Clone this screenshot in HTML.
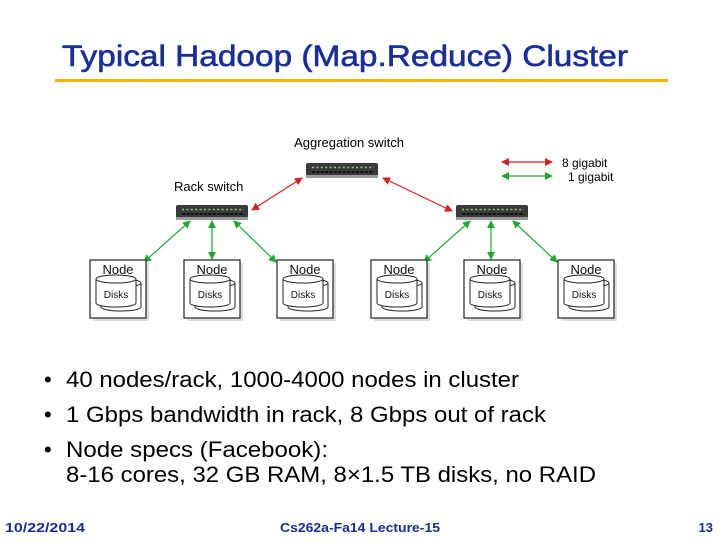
<!DOCTYPE html>
<html><head><meta charset="utf-8"><style>
body{margin:0;background:#fff;width:720px;height:540px;overflow:hidden;font-family:"Liberation Sans",sans-serif;}
</style></head><body>
<svg width="720" height="540" xmlns="http://www.w3.org/2000/svg" font-family="Liberation Sans, sans-serif">
<defs>
<marker id="r" markerWidth="8" markerHeight="8" refX="7" refY="4" orient="auto-start-reverse" markerUnits="userSpaceOnUse"><path d="M0,0 L8,4 L0,8z" fill="#d42020"/></marker>
<marker id="g" markerWidth="8" markerHeight="8" refX="7" refY="4" orient="auto-start-reverse" markerUnits="userSpaceOnUse"><path d="M0,0 L8,4 L0,8z" fill="#22a832"/></marker>
<g id="sw"><rect x="0" y="0" width="72" height="14" rx="2" fill="#3a3a3a"/><rect x="0" y="12" width="72" height="3" fill="#999"/>
<line x1="6" y1="4.5" x2="68" y2="4.5" stroke="#8c8" stroke-width="1.5" stroke-dasharray="2 2.4"/>
<line x1="6" y1="9" x2="68" y2="9" stroke="#111" stroke-width="2" stroke-dasharray="3 1.4"/></g>
<g id="nd"><rect x="3" y="3" width="56" height="58" fill="#bbb" opacity="0.5"/><rect x="0" y="0" width="56" height="58" fill="#fff" stroke="#222" stroke-width="1.2"/>
<text x="28" y="14" font-size="13" text-anchor="middle" fill="#111">Node</text>
<path d="M11,23 v24 a20,4 0 0 0 40,0 v-24" fill="#fff" stroke="#222"/><ellipse cx="31" cy="23" rx="20" ry="4" fill="#fff" stroke="#222"/>
<path d="M6,19 v24 a20,4 0 0 0 40,0 v-24" fill="#fff" stroke="#222"/><ellipse cx="26" cy="19" rx="20" ry="4" fill="#fff" stroke="#222"/>
<text x="26" y="38" font-size="10" text-anchor="middle" fill="#111">Disks</text></g>
</defs>
<text x="62" y="66" font-size="30" fill="#1a2f96" stroke="#1a2f96" stroke-width="0.6" textLength="566" lengthAdjust="spacingAndGlyphs">Typical Hadoop (Map.Reduce) Cluster</text>
<rect x="55" y="79" width="613" height="3" fill="#f0b400"/>
<text x="349" y="147" font-size="13" text-anchor="middle">Aggregation switch</text>
<text x="174" y="191" font-size="13">Rack switch</text>
<use href="#sw" x="306" y="163"/><use href="#sw" x="176" y="205"/><use href="#sw" x="456" y="205"/>
<g stroke="#d42020" stroke-width="1.2"><line x1="302" y1="178" x2="252" y2="210" marker-start="url(#r)" marker-end="url(#r)"/>
<line x1="383" y1="178" x2="452" y2="211" marker-start="url(#r)" marker-end="url(#r)"/>
<line x1="502" y1="162" x2="552" y2="162" marker-start="url(#r)" marker-end="url(#r)"/></g>
<g stroke="#22a832" stroke-width="1.2">
<line x1="190" y1="221" x2="144" y2="262" marker-start="url(#g)" marker-end="url(#g)"/>
<line x1="212" y1="221" x2="212" y2="259" marker-start="url(#g)" marker-end="url(#g)"/>
<line x1="234" y1="221" x2="276" y2="262" marker-start="url(#g)" marker-end="url(#g)"/>
<line x1="470" y1="221" x2="424" y2="262" marker-start="url(#g)" marker-end="url(#g)"/>
<line x1="491" y1="221" x2="491" y2="259" marker-start="url(#g)" marker-end="url(#g)"/>
<line x1="513" y1="221" x2="557" y2="262" marker-start="url(#g)" marker-end="url(#g)"/>
<line x1="502" y1="176" x2="552" y2="176" marker-start="url(#g)" marker-end="url(#g)"/></g>
<text x="562" y="167" font-size="12">8 gigabit</text><text x="568" y="181" font-size="12">1 gigabit</text>
<use href="#nd" x="90" y="260"/><use href="#nd" x="184" y="260"/><use href="#nd" x="277" y="260"/>
<use href="#nd" x="371" y="260"/><use href="#nd" x="464" y="260"/><use href="#nd" x="558" y="260"/>
<g font-size="22" fill="#000">
<text x="44" y="387">•</text><text x="66" y="387" textLength="453" lengthAdjust="spacingAndGlyphs">40 nodes/rack, 1000-4000 nodes in cluster</text>
<text x="44" y="422">•</text><text x="66" y="422" textLength="480" lengthAdjust="spacingAndGlyphs">1 Gbps bandwidth in rack, 8 Gbps out of rack</text>
<text x="44" y="457">•</text><text x="66" y="457" textLength="262" lengthAdjust="spacingAndGlyphs">Node specs (Facebook):</text>
<text x="66" y="482" textLength="530" lengthAdjust="spacingAndGlyphs">8-16 cores, 32 GB RAM, 8×1.5 TB disks, no RAID</text></g>
<g font-size="13" font-weight="bold" fill="#1a2f96">
<text x="5" y="532" textLength="80" lengthAdjust="spacingAndGlyphs">10/22/2014</text><text x="280" y="532" textLength="160" lengthAdjust="spacingAndGlyphs">Cs262a-Fa14 Lecture-15</text><text x="713" y="532" text-anchor="end">13</text></g>
</svg>
</body></html>
